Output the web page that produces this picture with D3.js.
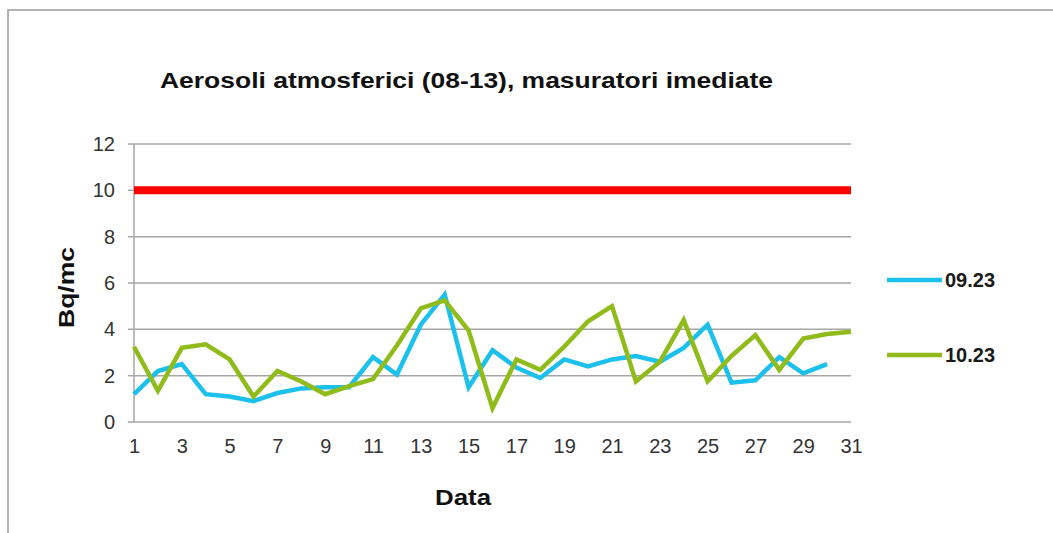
<!DOCTYPE html>
<html><head><meta charset="utf-8">
<script src="https://cdn.jsdelivr.net/npm/d3@7"></script>
<style>body{margin:0;background:#fff;}svg{display:block;font-family:"Liberation Sans",Arial,sans-serif;}</style>
</head><body><svg id="c" width="1053" height="533"></svg>
<script>
const days = d3.range(1, 32);
const xTicks = [1,3,5,7,9,11,13,15,17,19,21,23,25,27,29,31];
const yTicks = [0,2,4,6,8,10,12];
const seriesNames = ["09.23", "10.23"];
const seriesColors = ["#1cc0ec", "#8fbc1a"];
const values0923 = [1.2,2.2,2.5,1.2,1.1,0.9,1.25,1.45,1.5,1.5,2.8,2.05,4.2,5.5,1.5,3.1,2.35,1.9,2.7,2.4,2.7,2.85,2.6,3.2,4.2,1.7,1.8,2.8,2.1,2.5];
const values1023 = [3.25,1.35,3.2,3.35,2.7,1.1,2.2,1.75,1.2,1.55,1.85,3.3,4.9,5.25,3.95,0.6,2.7,2.25,3.25,4.35,5.0,1.75,2.6,4.4,1.75,2.85,3.75,2.25,3.6,3.8,3.9];
const limitValue = 10;
const limitColor = "#ff0000";

const svg = d3.select("#c");
// frame
svg.append("rect").attr("x",8).attr("y",10).attr("width",1100).attr("height",600)
  .attr("fill","none").attr("stroke","#9a9a9a").attr("stroke-width",1.5);

const x = d3.scaleLinear().domain([1,31]).range([134,851]);
const y = d3.scaleLinear().domain([0,12]).range([422,144]);

// gridlines
svg.append("g").selectAll("line").data(yTicks).join("line")
  .attr("x1",128).attr("x2",851).attr("y1",d=>y(d)).attr("y2",d=>y(d))
  .attr("stroke","#a6a6a6").attr("stroke-width",1.5);
// y axis line
svg.append("line").attr("x1",134).attr("x2",134).attr("y1",y(12)).attr("y2",y(0))
  .attr("stroke","#a6a6a6").attr("stroke-width",1.5);

// y tick labels
const yAxis = d3.axisLeft(y).tickValues(yTicks).tickSize(0).tickPadding(19);
const gy = svg.append("g").attr("transform","translate(134,0)").call(yAxis);
gy.select(".domain").remove();
gy.selectAll("text").attr("font-size",20).attr("fill","#333").attr("font-family","Liberation Sans, Arial, sans-serif");

const xAxis = d3.axisBottom(x).tickValues(xTicks).tickSize(0).tickPadding(17).tickFormat(d3.format("d"));
const gx = svg.append("g").attr("transform","translate(0,422)").call(xAxis);
gx.select(".domain").remove();
gx.selectAll("text").attr("font-size",20).attr("fill","#333").attr("font-family","Liberation Sans, Arial, sans-serif");

// limit line
svg.append("line").attr("x1",x(1)).attr("x2",x(31)).attr("y1",y(limitValue)).attr("y2",y(limitValue))
  .attr("stroke",limitColor).attr("stroke-width",8);

const line = d3.line().x((d,i)=>x(days[i])).y(d=>y(d));
const data = [values0923, values1023];
data.forEach((vals,k)=>{
  svg.append("path").datum(vals).attr("d",line).attr("fill","none")
    .attr("stroke",seriesColors[k]).attr("stroke-width",4.5).attr("stroke-linejoin","miter");
});

// legend
const legY = [280, 355];
seriesNames.forEach((n,k)=>{
  svg.append("line").attr("x1",887).attr("x2",942).attr("y1",legY[k]).attr("y2",legY[k])
    .attr("stroke",seriesColors[k]).attr("stroke-width",4.5);
  svg.append("text").attr("x",945).attr("y",legY[k]+7).text(n)
    .attr("font-size",20).attr("font-weight","bold").attr("fill","#1a1a1a");
});

// titles
svg.append("text").attr("x",160).attr("y",88)
  .attr("font-size",22).attr("font-weight","bold").attr("fill","#111")
  .attr("textLength",613).attr("lengthAdjust","spacingAndGlyphs")
  .text("Aerosoli atmosferici (08-13), masuratori imediate");
svg.append("text").attr("x",435).attr("y",505)
  .attr("font-size",22).attr("font-weight","bold").attr("fill","#111")
  .attr("textLength",56).attr("lengthAdjust","spacingAndGlyphs").text("Data");
svg.append("text").attr("transform","translate(74,328) rotate(-90)")
  .attr("font-size",22).attr("font-weight","bold").attr("fill","#111")
  .attr("textLength",81).attr("lengthAdjust","spacingAndGlyphs").text("Bq/mc");
</script></body></html>
